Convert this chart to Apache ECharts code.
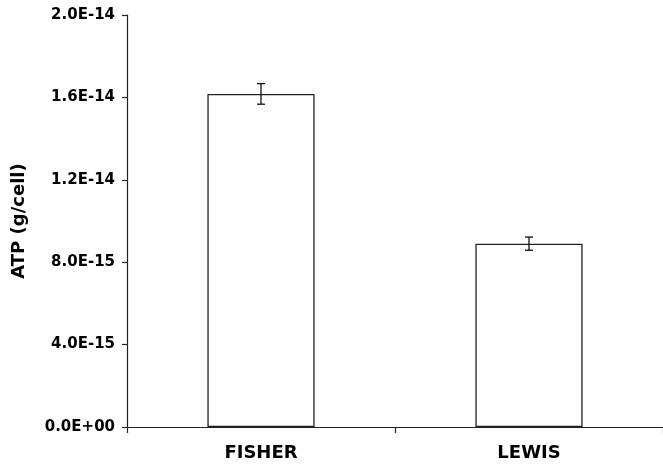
<!DOCTYPE html>
<html>
<head>
<meta charset="utf-8">
<script src="https://cdn.jsdelivr.net/npm/echarts@6/dist/echarts.min.js"></script>
<style>
  html, body { margin: 0; padding: 0; background: #fff; }
  #chart { width: 663px; height: 466px; }
</style>
</head>
<body>
<div id="chart"></div>
<script>
// Strains and their ATP content per cell (g/cell), with error bar half-widths
const strains = ['FISHER', 'LEWIS'];
const atpMean = [1.617e-14, 8.9e-15];
const atpError = [5.0e-16, 3.2e-16];

// Axis range
const yMin = 0;
const yMax = 2.0e-14;
const yStep = 4.0e-15;

const FONT = 'DejaVu Sans';
const INK = '#222';

// Scientific notation with a two-digit exponent: 8.0E-15, 0.0E+00
function sci(v) {
  if (Math.abs(v) < 1e-30) return '0.0E+00';
  const parts = v.toExponential(1).split('e');
  const exp = parseInt(parts[1], 10);
  const sign = exp < 0 ? '-' : '+';
  const digits = String(Math.abs(exp)).padStart(2, '0');
  return parts[0] + 'E' + sign + digits;
}

const chart = echarts.init(document.getElementById('chart'), null, { renderer: 'canvas' });

chart.setOption({
  animation: false,
  backgroundColor: '#fff',
  grid: { left: 127, right: 0, top: 15, bottom: 39 },
  xAxis: {
    type: 'category',
    data: strains,
    axisLine: { lineStyle: { color: INK, width: 1.2 } },
    axisTick: { show: true, length: 6, lineStyle: { color: INK, width: 1.2 } },
    axisLabel: {
      margin: 17,
      color: '#000',
      fontFamily: FONT,
      fontWeight: 'bold',
      fontSize: 18
    }
  },
  yAxis: {
    type: 'value',
    min: yMin,
    max: yMax,
    interval: yStep,
    name: 'ATP (g/cell)',
    nameLocation: 'middle',
    nameGap: 99,
    nameTextStyle: {
      color: '#000',
      fontFamily: FONT,
      fontWeight: 'bold',
      fontSize: 18
    },
    splitLine: { show: false },
    axisLine: { show: true, lineStyle: { color: INK, width: 1.2 } },
    axisTick: { show: true, length: 5, lineStyle: { color: INK, width: 1.2 } },
    axisLabel: {
      margin: 12,
      color: '#000',
      fontFamily: FONT,
      fontWeight: 'bold',
      fontSize: 15,
      formatter: sci
    }
  },
  series: [
    {
      type: 'bar',
      data: atpMean,
      barWidth: '40%',
      itemStyle: { color: '#fff', borderColor: INK, borderWidth: 1.3 },
      z: 2
    },
    {
      type: 'custom',
      z: 3,
      data: atpMean.map((m, i) => [i, m - atpError[i], m + atpError[i]]),
      renderItem: function (params, api) {
        const x = api.value(0);
        const lo = api.coord([x, api.value(1)]);
        const hi = api.coord([x, api.value(2)]);
        const cap = 4;
        const style = { stroke: '#111', lineWidth: 1.3, fill: null };
        return {
          type: 'group',
          children: [
            { type: 'line', shape: { x1: lo[0], y1: lo[1], x2: hi[0], y2: hi[1] }, style },
            { type: 'line', shape: { x1: hi[0] - cap, y1: hi[1], x2: hi[0] + cap, y2: hi[1] }, style },
            { type: 'line', shape: { x1: lo[0] - cap, y1: lo[1], x2: lo[0] + cap, y2: lo[1] }, style }
          ]
        };
      }
    }
  ]
});
</script>
</body>
</html>
